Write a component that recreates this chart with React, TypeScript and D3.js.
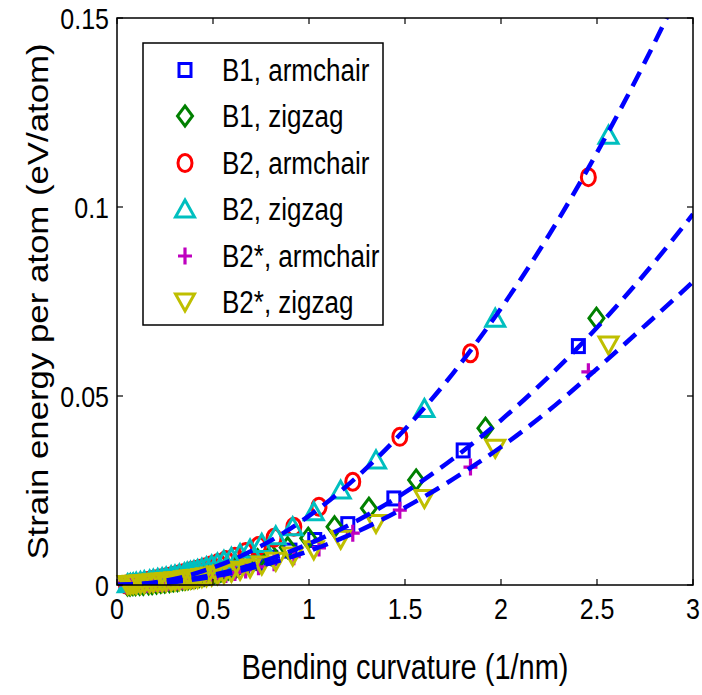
import React from "react";
import * as d3 from "d3";

// ---- data ----
const xTicks = [0, 0.5, 1, 1.5, 2, 2.5, 3];
const yTicks = [0, 0.05, 0.1, 0.15];
const xTickLabels = ["0", "0.5", "1", "1.5", "2", "2.5", "3"];
const yTickLabels = ["0", "0.05", "0.1", "0.15"];

// curvature values (1/nm)
const xB1Arm = [2.403, 1.803, 1.442, 1.202, 1.030, 0.901, 0.801, 0.721, 0.655, 0.601, 0.555, 0.515, 0.481, 0.451, 0.424, 0.401, 0.379, 0.361, 0.343, 0.328, 0.313, 0.300, 0.277, 0.258, 0.240, 0.218, 0.200, 0.180, 0.160, 0.144, 0.120, 0.103, 0.085, 0.072, 0.060, 0.048];
const yB1Arm = [0.0632, 0.0356, 0.0229, 0.0161, 0.0119, 0.0091, 0.0072, 0.0058, 0.0048, 0.0040, 0.0034, 0.0030, 0.0026, 0.0023, 0.0020, 0.0018, 0.0016, 0.0015, 0.0013, 0.0012, 0.0011, 0.0010, 0.0009, 0.0007, 0.0006, 0.0005, 0.0004, 0.0004, 0.0003, 0.0002, 0.0002, 0.0001, 0.0001, 0.0001, 0.0000, 0.0000];

const xB1Zig = [2.497, 1.919, 1.558, 1.312, 1.133, 0.996, 0.889, 0.803, 0.732, 0.673, 0.622, 0.579, 0.541, 0.508, 0.479, 0.453, 0.429, 0.408, 0.389, 0.371, 0.355, 0.341, 0.315, 0.293, 0.273, 0.249, 0.228, 0.206, 0.183, 0.165, 0.137, 0.118, 0.097, 0.083, 0.068, 0.055];
const yB1Zig = [0.0706, 0.0415, 0.0278, 0.0203, 0.0154, 0.0124, 0.0099, 0.0081, 0.0067, 0.0057, 0.0049, 0.0042, 0.0037, 0.0033, 0.0029, 0.0026, 0.0023, 0.0021, 0.0019, 0.0017, 0.0016, 0.0015, 0.0012, 0.0011, 0.0009, 0.0008, 0.0007, 0.0005, 0.0004, 0.0003, 0.0002, 0.0002, 0.0001, 0.0001, 0.0000, 0.0000];

const xB2Arm = [2.455, 1.841, 1.473, 1.228, 1.052, 0.921, 0.818, 0.737, 0.670, 0.614, 0.567, 0.526, 0.491, 0.460, 0.433, 0.409, 0.388, 0.368, 0.351, 0.335, 0.320, 0.307, 0.283, 0.263, 0.246, 0.223, 0.205, 0.184, 0.164, 0.147, 0.123, 0.105, 0.087, 0.074, 0.061, 0.049];
const yB2Arm = [0.1079, 0.0613, 0.0392, 0.0273, 0.0207, 0.0154, 0.0125, 0.0103, 0.0087, 0.0075, 0.0066, 0.0058, 0.0052, 0.0047, 0.0043, 0.0040, 0.0037, 0.0034, 0.0032, 0.0030, 0.0028, 0.0026, 0.0023, 0.0021, 0.0019, 0.0017, 0.0015, 0.0013, 0.0011, 0.0009, 0.0007, 0.0005, 0.0004, 0.0003, 0.0002, 0.0001];

const xB2Zig = [2.560, 1.970, 1.601, 1.349, 1.165, 1.025, 0.915, 0.827, 0.754, 0.693, 0.641, 0.596, 0.557, 0.523, 0.493, 0.466, 0.442, 0.420, 0.401, 0.383, 0.366, 0.351, 0.325, 0.302, 0.282, 0.256, 0.235, 0.212, 0.189, 0.170, 0.142, 0.122, 0.100, 0.085, 0.070, 0.056];
const yB2Zig = [0.1190, 0.0706, 0.0467, 0.0331, 0.0251, 0.0194, 0.0154, 0.0130, 0.0110, 0.0095, 0.0083, 0.0073, 0.0065, 0.0058, 0.0053, 0.0048, 0.0044, 0.0041, 0.0038, 0.0036, 0.0034, 0.0032, 0.0029, 0.0026, 0.0024, 0.0021, 0.0019, 0.0017, 0.0015, 0.0013, 0.0011, 0.0009, 0.0007, 0.0005, 0.0004, 0.0003];

const yB2sArm = [0.0564, 0.0312, 0.0198, 0.0137, 0.0098, 0.0075, 0.0059, 0.0048, 0.0040, 0.0033, 0.0028, 0.0024, 0.0021, 0.0019, 0.0017, 0.0015, 0.0013, 0.0012, 0.0011, 0.0010, 0.0009, 0.0008, 0.0007, 0.0006, 0.0005, 0.0004, 0.0004, 0.0003, 0.0002, 0.0002, 0.0001, 0.0001, 0.0001, 0.0000, 0.0000, 0.0000];
const yB2sZig = [0.0635, 0.0362, 0.0229, 0.0163, 0.0121, 0.0093, 0.0077, 0.0063, 0.0053, 0.0045, 0.0039, 0.0034, 0.0030, 0.0027, 0.0024, 0.0022, 0.0020, 0.0018, 0.0017, 0.0016, 0.0015, 0.0014, 0.0012, 0.0011, 0.0010, 0.0009, 0.0008, 0.0007, 0.0006, 0.0005, 0.0004, 0.0003, 0.0002, 0.0002, 0.0001, 0.0001];

// fitted dashed curves
const fitX = [0, 0.25, 0.5, 0.75, 1.0, 1.25, 1.5, 1.75, 2.0, 2.25, 2.5, 2.75, 3.0];
const fitUpper = [0, 0.0011, 0.0046, 0.0103, 0.0183, 0.0286, 0.0412, 0.0560, 0.0732, 0.0926, 0.1144, 0.1384, 0.1647];
const fitMiddle = [0, 0.0007, 0.0027, 0.0061, 0.0109, 0.0170, 0.0245, 0.0334, 0.0436, 0.0552, 0.0681, 0.0824, 0.0981];
const fitLower = [0, 0.00056, 0.00225, 0.0051, 0.0090, 0.0141, 0.0205, 0.0280, 0.0365, 0.0462, 0.0572, 0.0686, 0.0802];

const seriesNames = ["B1, armchair", "B1, zigzag", "B2, armchair", "B2, zigzag", "B2*, armchair", "B2*, zigzag"];
const seriesColors = ["#0000ff", "#008000", "#ff0000", "#00bfbf", "#bf00bf", "#bfbf00"];
const seriesShapes = ["square", "diamond", "circle", "triangleUp", "plus", "triangleDown"];
const seriesX = [xB1Arm, xB1Zig, xB2Arm, xB2Zig, xB2Arm, xB2Zig];
const seriesY = [yB1Arm, yB1Zig, yB2Arm, yB2Zig, yB2sArm, yB2sZig];

// ---- layout ----
const W = 702, H = 695;
const L = 117, R = 693, T = 18, B = 585;
const FONT = "'Liberation Sans', Arial, Helvetica, sans-serif";
const VS = 1.2; // vertical stretch of the text in the reference

function Marker({ shape, cx, cy, color }: { shape: string; cx: number; cy: number; color: string }) {
  const sw = 3;
  const common = { fill: "none", stroke: color, strokeWidth: sw };
  switch (shape) {
    case "square":
      return <rect x={cx - 6} y={cy - 6.5} width={12} height={13} {...common} />;
    case "diamond":
      return <path d={`M${cx},${cy - 10}L${cx + 7.5},${cy}L${cx},${cy + 10}L${cx - 7.5},${cy}Z`} {...common} />;
    case "circle":
      return <ellipse cx={cx} cy={cy} rx={7} ry={8.5} {...common} />;
    case "triangleUp":
      return <path d={`M${cx},${cy - 9}L${cx + 9.5},${cy + 8}L${cx - 9.5},${cy + 8}Z`} {...common} />;
    case "triangleDown":
      return <path d={`M${cx},${cy + 9}L${cx + 9.5},${cy - 8}L${cx - 9.5},${cy - 8}Z`} {...common} />;
    case "plus":
      return <path d={`M${cx - 7},${cy}L${cx + 7},${cy}M${cx},${cy - 8.5}L${cx},${cy + 8.5}`} {...common} strokeWidth={3.2} />;
    default:
      return null;
  }
}

function SText({ x, y, size, anchor, children }: { x: number; y: number; size: number; anchor?: string; children: React.ReactNode }) {
  return (
    <text transform={`translate(${x},${y}) scale(1,${VS})`} textAnchor={anchor || "start"} fontSize={size} fill="#000">
      {children}
    </text>
  );
}

export default function App() {
  const x = d3.scaleLinear().domain([0, 3]).range([L, R]);
  const y = d3.scaleLinear().domain([0, 0.15]).range([B, T]);
  const line = d3
    .line<[number, number]>()
    .x((d) => x(d[0]))
    .y((d) => y(d[1]))
    .curve(d3.curveMonotoneX);
  const fits = [fitUpper, fitMiddle, fitLower].map((ys) =>
    line(fitX.map((v, i) => [v, ys[i]] as [number, number]))
  );
  const legendRows = [70, 116, 163, 209, 256, 302];

  return (
    <svg
      width={W}
      height={H}
      style={{ position: "absolute", left: 0, top: 0, background: "#fff" }}
      fontFamily={FONT}
    >
      <defs>
        <clipPath id="plotclip">
          <rect x={L} y={T} width={R - L} height={B - T} />
        </clipPath>
      </defs>
      <rect x={0} y={0} width={W} height={H} fill="#fff" />

      {/* markers */}
      {seriesX.map((xs, si) => (
        <g key={si}>
          {xs.map((xv, i) => (
            <Marker key={i} shape={seriesShapes[si]} cx={x(xv)} cy={y(seriesY[si][i])} color={seriesColors[si]} />
          ))}
        </g>
      ))}

      {/* fitted dashed lines */}
      <g clipPath="url(#plotclip)">
        {fits.map((d, i) => (
          <path key={i} d={d || ""} fill="none" stroke="#0000ff" strokeWidth={4.5} strokeDasharray="16 9" />
        ))}
      </g>

      {/* axes box */}
      <rect x={L} y={T} width={R - L} height={B - T} fill="none" stroke="#000" strokeWidth={1.5} />
      {xTicks.map((t, i) => (
        <g key={"xt" + i}>
          <line x1={x(t)} x2={x(t)} y1={B} y2={B - 6} stroke="#000" strokeWidth={1.2} />
          <line x1={x(t)} x2={x(t)} y1={T} y2={T + 6} stroke="#000" strokeWidth={1.2} />
          <SText x={x(t)} y={619} size={25} anchor="middle">
            {xTickLabels[i]}
          </SText>
        </g>
      ))}
      {yTicks.map((t, i) => (
        <g key={"yt" + i}>
          <line x1={L} x2={L + 6} y1={y(t)} y2={y(t)} stroke="#000" strokeWidth={1.2} />
          <line x1={R} x2={R - 6} y1={y(t)} y2={y(t)} stroke="#000" strokeWidth={1.2} />
          <SText x={109} y={y(t) + 10.5} size={25} anchor="end">
            {yTickLabels[i]}
          </SText>
        </g>
      ))}

      {/* axis labels */}
      <SText x={(L + R) / 2} y={679} size={29} anchor="middle">
        Bending curvature (1/nm)
      </SText>
      <text
        transform={`translate(48,${(T + B) / 2}) scale(1,${VS}) rotate(-90)`}
        textAnchor="middle"
        fontSize={29}
        fill="#000"
      >
        Strain energy per atom (eV/atom)
      </text>

      {/* legend */}
      <rect x={143} y={43} width={240} height={282} fill="#fff" stroke="#000" strokeWidth={1.5} />
      {seriesNames.map((name, i) => (
        <g key={"lg" + i}>
          <Marker shape={seriesShapes[i]} cx={185} cy={legendRows[i]} color={seriesColors[i]} />
          <SText x={222} y={legendRows[i] + 11} size={26}>
            {name}
          </SText>
        </g>
      ))}
    </svg>
  );
}
